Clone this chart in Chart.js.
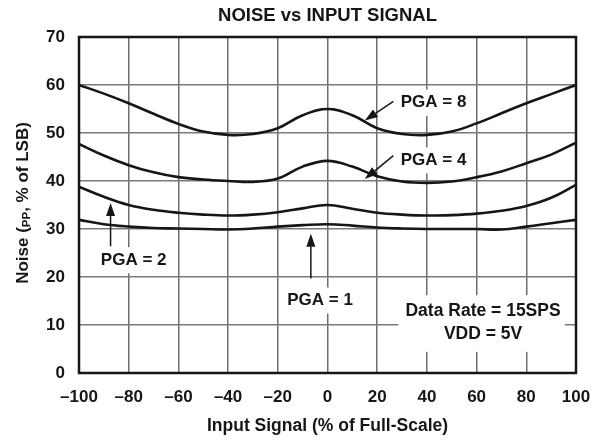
<!DOCTYPE html>
<html>
<head>
<meta charset="utf-8">
<script src="https://cdn.jsdelivr.net/npm/chart.js@4"></script>
<style>
html,body{margin:0;padding:0;background:#fff;}
#wrap{width:606px;height:441px;position:relative;}
</style>
</head>
<body>
<div id="wrap"><canvas id="c" width="606" height="441"></canvas></div>
<script>
// ---- data ----
const inputSignal = [-100,-90,-80,-70,-60,-50,-40,-30,-20,-10,0,10,20,30,40,50,60,70,80,90,100];
const pga8 = [60,58.2,56.2,54,51.9,50.3,49.6,49.8,51,53.7,55,53.7,51,49.8,49.6,50.3,52,54.1,56.2,58.1,60];
const pga4 = [47.7,45.3,43.3,41.8,40.8,40.3,40,39.8,40.5,43,44.2,43,41,39.9,39.6,39.9,40.8,42,43.7,45.5,48];
const pga2 = [38.8,36.7,35,34,33.4,33,32.8,33,33.5,34.3,35,34.2,33.4,33,32.8,32.9,33.2,33.8,34.8,36.5,39.2];
const pga1 = [31.9,31,30.5,30.2,30.1,30,29.9,30.1,30.5,30.8,31,30.7,30.3,30.1,30,30,30,29.9,30.5,31.2,31.9];
const seriesNames = ['PGA = 8','PGA = 4','PGA = 2','PGA = 1'];
const xTicks = [-100,-80,-60,-40,-20,0,20,40,60,80,100];
const yTicks = [0,10,20,30,40,50,60,70];
const titleText = 'NOISE vs INPUT SIGNAL';
const xTitle = 'Input Signal (% of Full-Scale)';
const yTitleParts = ['Noise (', 'PP', ', % of LSB)'];
const noteLines = ['Data Rate = 15SPS', 'VDD = 5V'];

// label annotations (in data coordinates)
const labels = [
  {text: seriesNames[0], x: 42.7, y: 56.3, ax0: 26.5, ay0: 56.6, ax1: 15, ay1: 52.6},
  {text: seriesNames[1], x: 42.7, y: 44.3, ax0: 26.5, ay0: 45.3, ax1: 15, ay1: 40.4},
  {text: seriesNames[2], x: -78, y: 23.5, ax0: -87.3, ay0: 26.4, ax1: -87.3, ay1: 35.4},
  {text: seriesNames[3], x: -3, y: 15.1, ax0: -6.7, ay0: 19.7, ax1: -6.7, ay1: 29}
];

const FONT = '"Liberation Sans", Arial, sans-serif';
const ink = '#161616';

const mk = (arr) => arr.map((v,i)=>({x: inputSignal[i], y: v}));

const framePlugin = {
  id: 'frame',
  beforeDatasetsDraw(chart){
    const {ctx, scales:{x,y}} = chart;
    ctx.save();
    ctx.font = 'bold 17px ' + FONT;
    ctx.fillStyle = '#fff';
    labels.forEach(l=>{
      const w = ctx.measureText(l.text).width;
      const px = x.getPixelForValue(l.x), py = y.getPixelForValue(l.y);
      ctx.fillRect(px - w/2 - 5, py - 13, w + 10, 26);
    });
    const nx0 = x.getPixelForValue(28.5), nx1 = x.getPixelForValue(95.5);
    const ny0 = y.getPixelForValue(16.2), ny1 = y.getPixelForValue(4.4);
    ctx.fillRect(nx0, ny0, nx1 - nx0, ny1 - ny0);
    ctx.restore();
  },
  afterDraw(chart){
    const {ctx, chartArea:a, scales:{x,y}} = chart;
    ctx.save();
    ctx.strokeStyle = ink;
    ctx.lineWidth = 2.5;
    ctx.strokeRect(a.left, a.top, a.right - a.left, a.bottom - a.top);

    ctx.fillStyle = ink;
    ctx.textAlign = 'center';
    ctx.textBaseline = 'middle';

    // chart title centered over the plot area
    ctx.font = 'bold 18.5px ' + FONT;
    ctx.fillText(titleText, (a.left + a.right)/2, 16);

    ctx.font = 'bold 17px ' + FONT;
    labels.forEach(l=>{
      ctx.fillText(l.text, x.getPixelForValue(l.x), y.getPixelForValue(l.y));
      const x0 = x.getPixelForValue(l.ax0), y0 = y.getPixelForValue(l.ay0);
      const x1 = x.getPixelForValue(l.ax1), y1 = y.getPixelForValue(l.ay1);
      const ang = Math.atan2(y1 - y0, x1 - x0);
      const hl = 13, hw = 4.5;
      const bx = x1 - hl*Math.cos(ang), by = y1 - hl*Math.sin(ang);
      ctx.lineWidth = 1.5;
      ctx.strokeStyle = ink;
      ctx.beginPath(); ctx.moveTo(x0,y0); ctx.lineTo(bx,by); ctx.stroke();
      ctx.beginPath();
      ctx.moveTo(x1,y1);
      ctx.lineTo(bx + hw*Math.sin(ang), by - hw*Math.cos(ang));
      ctx.lineTo(bx - hw*Math.sin(ang), by + hw*Math.cos(ang));
      ctx.closePath(); ctx.fill();
    });

    ctx.font = 'bold 17.5px ' + FONT;
    const nx = x.getPixelForValue(62.6);
    ctx.fillText(noteLines[0], nx, y.getPixelForValue(12.8));
    ctx.fillText(noteLines[1], nx, y.getPixelForValue(8.1));

    // y axis title with subscript
    ctx.translate(23, (a.top + a.bottom)/2 - 2);
    ctx.rotate(-Math.PI/2);
    ctx.textAlign = 'left';
    ctx.textBaseline = 'middle';
    const big = 'bold 17px ' + FONT, small = 'bold 11.5px ' + FONT;
    ctx.font = big; const w0 = ctx.measureText(yTitleParts[0]).width;
    const w2 = ctx.measureText(yTitleParts[2]).width;
    ctx.font = small; const w1 = ctx.measureText(yTitleParts[1]).width;
    let sx = -(w0 + w1 + w2)/2;
    ctx.font = big; ctx.fillText(yTitleParts[0], sx, 0); sx += w0;
    ctx.font = small; ctx.fillText(yTitleParts[1], sx, 4); sx += w1;
    ctx.font = big; ctx.fillText(yTitleParts[2], sx, 0);
    ctx.restore();
  }
};

const dsStyle = {borderColor: ink, borderWidth: 2.6, pointRadius: 0, fill: false, tension: 0.4};

new Chart(document.getElementById('c'), {
  type: 'line',
  data: {
    datasets: [
      Object.assign({label: seriesNames[0], data: mk(pga8)}, dsStyle),
      Object.assign({label: seriesNames[1], data: mk(pga4)}, dsStyle),
      Object.assign({label: seriesNames[2], data: mk(pga2)}, dsStyle),
      Object.assign({label: seriesNames[3], data: mk(pga1)}, dsStyle)
    ]
  },
  options: {
    responsive: false,
    animation: false,
    layout: {padding: {left: 0, right: 30, top: 37, bottom: 0}},
    plugins: {
      legend: {display: false},
      tooltip: {enabled: false},
      title: {display: false}
    },
    scales: {
      x: {
        type: 'linear', min: -100, max: 100,
        afterBuildTicks: (s) => { s.ticks = xTicks.map(v=>({value: v})); },
        afterFit: (s) => { s.height = 68; },
        ticks: {color: ink, font: {family: FONT, size: 17, weight: 'bold'}, padding: 14, maxRotation: 0,
          callback: (v) => String(v).replace('-', '\u2013')},
        grid: {color: '#6e6e6e', lineWidth: 1.5, drawTicks: false},
        border: {display: false},
        title: {display: true, text: xTitle, color: ink, font: {family: FONT, size: 17.5, weight: 'bold'}, padding: {top: 0, bottom: 4}}
      },
      y: {
        min: 0, max: 70,
        afterBuildTicks: (s) => { s.ticks = yTicks.map(v=>({value: v})); },
        afterFit: (s) => { s.width = 79; },
        ticks: {color: ink, font: {family: FONT, size: 17, weight: 'bold'}, padding: 14},
        grid: {color: '#7a7a7a', lineWidth: 1.5, drawTicks: false},
        border: {display: false}
      }
    }
  },
  plugins: [framePlugin]
});
</script>
</body>
</html>
